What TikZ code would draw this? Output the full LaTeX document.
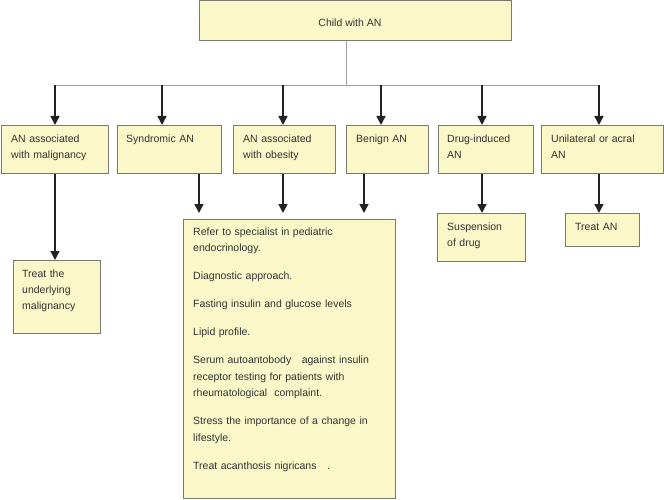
\documentclass[tikz,border=0pt]{standalone}
\usepackage{fontspec}
\setmainfont{Liberation Sans}
\usetikzlibrary{arrows.meta}
\definecolor{boxfill}{HTML}{FAF8C9}
\definecolor{boxline}{HTML}{7A7A70}
\definecolor{txt}{HTML}{333333}
\definecolor{thingray}{HTML}{A0A0A0}
\definecolor{arrowc}{HTML}{222222}
\begin{document}
\begin{tikzpicture}[x=1pt,y=-1pt,
  box/.style={draw=boxline, fill=boxfill, line width=0.9pt, inner sep=0pt, anchor=north west},
  txtnode/.style={anchor=north west, inner sep=0pt, align=left, text=txt, font=\fontsize{10.5}{16}\selectfont},
  bigtxt/.style={anchor=north west, inner sep=0pt, align=left, text=txt, font=\fontsize{10.5}{16.5}\selectfont},
  arr/.style={draw=arrowc, line width=1.6pt, -{Triangle[length=9pt,width=9pt]}},
  thinline/.style={draw=thingray, line width=0.9pt}]
\useasboundingbox (0,0) rectangle (664,500);

% boxes
\node[box, minimum width=312pt, minimum height=40pt] (top) at (199,0.5) {};
\node[box, minimum width=107pt, minimum height=48pt] (b1) at (1,125) {};
\node[box, minimum width=104pt, minimum height=48pt] (b2) at (117,125) {};
\node[box, minimum width=102pt, minimum height=48pt] (b3) at (233,125) {};
\node[box, minimum width=82pt, minimum height=48pt] (b4) at (346,125) {};
\node[box, minimum width=95pt, minimum height=48pt] (b5) at (438,125) {};
\node[box, minimum width=122pt, minimum height=48pt] (b6) at (541,125) {};
\node[box, minimum width=87pt, minimum height=73pt] (t1) at (13,260) {};
\node[box, minimum width=212pt, minimum height=279pt] (big) at (183,219) {};
\node[box, minimum width=88pt, minimum height=48pt] (sus) at (437,213) {};
\node[box, minimum width=74pt, minimum height=33pt] (tan) at (565,213) {};

% texts
\node[anchor=base, inner sep=0pt, text=txt, font=\fontsize{10.5}{16}\selectfont] (toptxt) at (350,27) {Child with AN};
\node[txtnode, text width=95pt] (b1t) at (11,130.8) {\strut AN associated\\with malignancy};
\node[txtnode, text width=92pt] (b2t) at (126,130.8) {\strut Syndromic AN};
\node[txtnode, text width=90pt] (b3t) at (243,130.8) {\strut AN associated\\with obesity};
\node[txtnode, text width=72pt] (b4t) at (356,130.8) {\strut Benign AN};
\node[txtnode, text width=85pt] (b5t) at (447,130.8) {\strut Drug-induced\\AN};
\node[txtnode, text width=110pt] (b6t) at (551,130.8) {\strut Unilateral or acral\\AN};
\node[txtnode, text width=80pt] (t1t) at (22,265.8) {\strut Treat the\\underlying\\malignancy};
\node[txtnode, text width=80pt] (sust) at (447,218.8) {\strut Suspension\\of drug};
\node[txtnode, text width=64pt] (tant) at (575,218.8) {\strut Treat AN};
\node[bigtxt, text width=200pt] (bigt) at (193,223.45) {\strut Refer to specialist in pediatric\\endocrinology.\\[11.5pt]
Diagnostic approach.\\[11.5pt]
Fasting insulin and glucose levels\\[11.5pt]
Lipid profile.\\[11.5pt]
Serum autoantobody\ \ \ against insulin\\receptor testing for patients with\\rheumatological\ \ complaint.\\[11.5pt]
Stress the importance of a change in\\lifestyle.\\[11.5pt]
Treat acanthosis nigricans\ \ \ .};

% connector from the top box
\coordinate (hub) at (346,85);
\coordinate (hl) at (55,85);
\coordinate (hr) at (599,85);
\draw[thinline] (top.south -| hub) -- (hub);
\draw[thinline] (hl) -- (hr);

\coordinate (a1) at (55,85);
\coordinate (a2) at (162,85);
\coordinate (a3) at (283,85);
\coordinate (a4) at (381,85);
\coordinate (a5) at (482,85);
\coordinate (a6) at (599,85);
\draw[arr] (a1) -- (a1 |- b1.north);
\draw[arr] (a2) -- (a2 |- b2.north);
\draw[arr] (a3) -- (a3 |- b3.north);
\draw[arr] (a4) -- (a4 |- b4.north);
\draw[arr] (a5) -- (a5 |- b5.north);
\draw[arr] (a6) -- (a6 |- b6.north);

% second level
\coordinate (c2) at (199,173);
\coordinate (c3) at (283,173);
\coordinate (c4) at (364,173);
\draw[arr] (b1.south -| a1) -- (a1 |- t1.north);
\draw[arr, shorten >=6pt] (b2.south -| c2) -- (c2 |- big.north);
\draw[arr, shorten >=6pt] (b3.south -| c3) -- (c3 |- big.north);
\draw[arr, shorten >=6pt] (b4.south -| c4) -- (c4 |- big.north);
\draw[arr] (b5.south -| a5) -- (a5 |- sus.north);
\draw[arr] (b6.south -| a6) -- (a6 |- tan.north);
\end{tikzpicture}
\end{document}
